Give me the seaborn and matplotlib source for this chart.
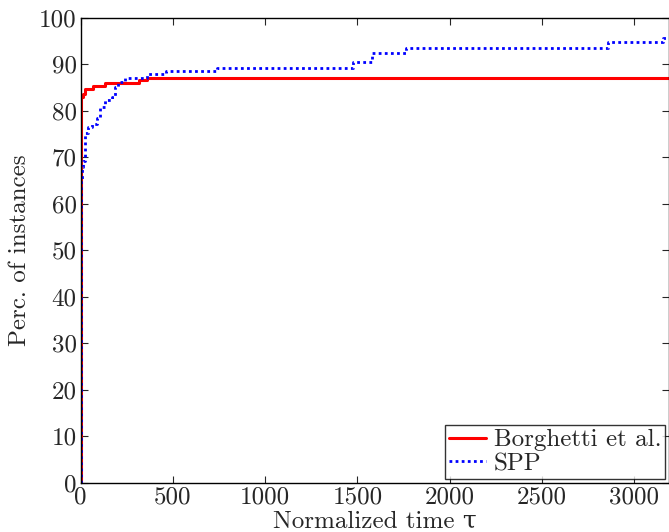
import matplotlib
matplotlib.use("Agg")
import matplotlib.pyplot as plt
import seaborn as sns
import pandas as pd

# Performance profile: percentage of instances solved within a normalized time tau
borghetti_tau = [0, 2, 10, 23, 68, 132, 316, 357, 3200]
borghetti_perc = [0, 82.9, 83.6, 84.6, 85.3, 86.0, 86.6, 87.1, 87.1]

spp_tau = [0, 3, 5, 14, 23, 41, 59, 87, 104, 132, 168, 186, 204, 240,
           357, 462, 736, 1476, 1576, 1762, 2857, 3155, 3200]
spp_perc = [0, 65.0, 67.8, 69.2, 75.1, 76.5, 77.2, 78.3, 80.8, 82.3, 83.0,
            85.1, 86.2, 87.1, 87.8, 88.5, 89.1, 90.4, 92.3, 93.4, 94.8,
            95.5, 95.5]

series_names = ["Borghetti et al.", "SPP"]
x_ticks = [0, 500, 1000, 1500, 2000, 2500, 3000]
y_ticks = list(range(0, 101, 10))

sns.set_style("ticks")
plt.rcParams["font.family"] = ["cmr10", "DejaVu Serif"]
plt.rcParams["mathtext.fontset"] = "cm"
plt.rcParams["axes.formatter.use_mathtext"] = True
plt.rcParams["font.size"] = 18

df_b = pd.DataFrame({"tau": borghetti_tau, "perc": borghetti_perc})
df_s = pd.DataFrame({"tau": spp_tau, "perc": spp_perc})

fig = plt.figure(figsize=(6.69, 5.32), dpi=100)
ax = fig.add_axes([0.1206, 0.093, 0.8794, 0.874])

sns.lineplot(data=df_b, x="tau", y="perc", ax=ax, color="#ff0000",
             linewidth=2.2, drawstyle="steps-post", label=series_names[0],
             sort=False, estimator=None)
sns.lineplot(data=df_s, x="tau", y="perc", ax=ax, color="#0000ff",
             linewidth=2.0, linestyle=(0, (1, 1.2)), drawstyle="steps-post",
             label=series_names[1], sort=False, estimator=None)

ax.set_xlim(0, 3188)
ax.set_ylim(0, 100)
ax.set_xticks(x_ticks)
ax.set_yticks(y_ticks)
ax.set_xticklabels([str(t) for t in x_ticks])
ax.set_yticklabels([str(t) for t in y_ticks])
ax.tick_params(direction="in", top=True, right=True, length=5, width=0.8,
               labelsize=18, pad=3)
for s in ax.spines.values():
    s.set_linewidth(1.0)
    s.set_color("black")

ax.set_xlabel("Normalized time τ", fontsize=18, labelpad=1)
ax.set_ylabel("Perc. of instances", fontsize=18, labelpad=6)

leg = ax.legend(loc="lower right", frameon=True, fancybox=False,
                edgecolor="black", fontsize=18, handlelength=1.5,
                handletextpad=0.3, borderpad=0.15, labelspacing=0.05,
                borderaxespad=0.15)
leg.get_frame().set_linewidth(1.0)

fig.savefig("out.png", dpi=100)
